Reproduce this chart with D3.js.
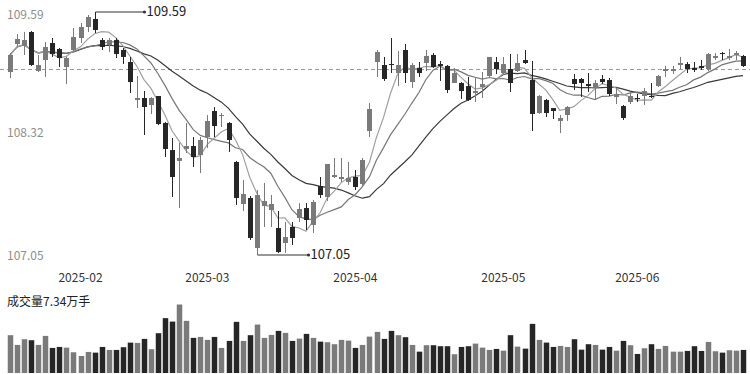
<!DOCTYPE html>
<html>
<head>
<meta charset="utf-8">
<script src="https://cdn.jsdelivr.net/npm/d3@7/dist/d3.min.js"></script>
<style>
  body { margin: 0; background: #fff; }
  svg { display: block; font-family: "Noto Sans CJK SC", "Open Sans", sans-serif; }
</style>
</head>
<body>
<svg id="chart" width="750" height="374"></svg>
<script>
// trading days shown on the chart
const dates = [
  '2025-01-14','2025-01-15','2025-01-16','2025-01-17','2025-01-20','2025-01-21','2025-01-22','2025-01-23','2025-01-24','2025-01-27',
  '2025-02-05','2025-02-06','2025-02-07','2025-02-10','2025-02-11','2025-02-12','2025-02-13','2025-02-14','2025-02-17','2025-02-18',
  '2025-02-19','2025-02-20','2025-02-21','2025-02-24','2025-02-25','2025-02-26','2025-02-27','2025-02-28',
  '2025-03-03','2025-03-04','2025-03-05','2025-03-06','2025-03-07','2025-03-10','2025-03-11','2025-03-12','2025-03-13','2025-03-14',
  '2025-03-17','2025-03-18','2025-03-19','2025-03-20','2025-03-21','2025-03-24','2025-03-25','2025-03-26','2025-03-27','2025-03-28','2025-03-31',
  '2025-04-01','2025-04-02','2025-04-03','2025-04-07','2025-04-08','2025-04-09','2025-04-10','2025-04-11','2025-04-14','2025-04-15',
  '2025-04-16','2025-04-17','2025-04-18','2025-04-21','2025-04-22','2025-04-23','2025-04-24','2025-04-25','2025-04-28','2025-04-29','2025-04-30',
  '2025-05-06','2025-05-07','2025-05-08','2025-05-09','2025-05-12','2025-05-13','2025-05-14','2025-05-15','2025-05-16','2025-05-19',
  '2025-05-20','2025-05-21','2025-05-22','2025-05-23','2025-05-26','2025-05-27','2025-05-28','2025-05-29','2025-05-30',
  '2025-06-03','2025-06-04','2025-06-05','2025-06-06','2025-06-09','2025-06-10','2025-06-11','2025-06-12','2025-06-13','2025-06-16',
  '2025-06-17','2025-06-18','2025-06-19','2025-06-20','2025-06-23','2025-06-24'
];

const opens = [
  108.963,109.255,109.235,109.381,108.973,109.088,109.266,109.203,109.015,109.193,
  109.318,109.433,109.517,109.297,109.245,109.297,109.193,109.067,108.670,108.691,
  108.618,108.712,108.430,108.147,108.033,108.158,108.189,108.095,108.283,108.555,
  108.503,108.430,108.022,107.583,107.646,107.123,107.562,107.520,107.332,107.175,
  107.343,107.437,107.541,107.364,107.771,107.656,107.865,107.844,107.813,107.865,
  107.792,108.346,109.067,109.036,109.046,108.952,109.193,108.858,109.005,109.057,
  109.141,109.046,109.026,108.848,108.848,108.816,108.743,108.806,108.921,109.067,
  108.952,108.994,108.973,109.088,108.879,108.534,108.670,108.586,108.451,108.513,
  108.890,108.890,108.837,108.796,108.890,108.879,108.701,108.607,108.649,108.691,
  108.712,108.712,108.816,108.973,108.973,109.036,109.046,109.005,109.026,108.994,
  109.109,109.161,109.109,109.141,109.130
];
const highs = [
  109.161,109.360,109.381,109.391,109.141,109.276,109.318,109.214,109.120,109.423,
  109.475,109.559,109.590,109.318,109.318,109.318,109.214,109.120,108.921,108.764,
  108.701,108.712,108.440,108.273,108.221,108.430,108.283,108.283,108.513,108.597,
  108.534,108.440,108.033,107.834,107.667,107.729,107.803,107.677,107.510,107.395,
  107.395,107.593,107.593,107.625,107.865,108.001,108.064,108.064,108.022,107.938,
  108.064,108.639,109.193,109.120,109.318,109.182,109.255,109.057,109.067,109.193,
  109.161,109.078,109.036,109.005,108.858,108.911,108.900,108.963,109.120,109.120,
  109.120,109.151,109.151,109.193,109.078,108.722,108.681,108.586,108.513,108.607,
  108.942,108.900,108.952,108.879,108.931,108.900,108.796,108.618,108.743,108.733,
  108.796,108.848,108.931,109.026,109.026,109.120,109.067,109.067,109.088,109.161,
  109.161,109.172,109.203,109.182,109.141
];
const lows = [
  108.900,109.224,109.141,109.026,108.963,108.911,109.120,109.015,108.837,109.182,
  109.266,109.381,109.370,109.193,109.172,109.109,109.046,108.743,108.586,108.304,
  108.524,108.409,108.074,107.656,107.541,108.116,107.970,107.907,108.168,108.283,
  108.388,108.127,107.573,107.510,107.207,107.050,107.343,107.343,107.071,107.071,
  107.154,107.395,107.311,107.280,107.646,107.614,107.855,107.813,107.782,107.729,
  107.771,108.283,108.911,108.869,108.952,108.816,108.848,108.796,108.911,108.973,
  109.005,108.869,108.743,108.848,108.681,108.660,108.649,108.691,108.911,108.942,
  108.931,108.754,108.963,109.046,108.346,108.524,108.492,108.471,108.325,108.451,
  108.775,108.701,108.754,108.681,108.837,108.712,108.628,108.461,108.628,108.649,
  108.618,108.691,108.806,108.911,108.942,108.994,108.952,108.963,108.984,108.973,
  109.088,109.088,109.088,109.088,109.015
];
const closes = [
  109.141,109.308,109.297,109.036,109.036,109.224,109.151,109.109,109.109,109.329,
  109.433,109.538,109.402,109.224,109.297,109.151,109.120,108.858,108.691,108.597,
  108.691,108.419,108.158,107.865,108.064,108.189,108.074,108.252,108.451,108.398,
  108.513,108.252,107.646,107.688,107.228,107.677,107.614,107.583,107.081,107.238,
  107.228,107.531,107.416,107.604,107.677,108.001,107.886,107.865,107.855,107.761,
  108.043,108.576,109.172,108.890,109.036,109.036,108.952,109.036,108.952,109.130,
  109.015,109.026,108.775,108.952,108.764,108.670,108.764,108.837,109.120,108.994,
  109.046,108.848,109.057,109.057,108.524,108.712,108.534,108.555,108.482,108.597,
  108.837,108.848,108.816,108.848,108.858,108.733,108.722,108.482,108.712,108.681,
  108.764,108.701,108.921,108.994,108.994,109.057,108.994,108.984,109.005,109.151,
  109.130,109.151,109.130,109.161,109.026
];
// volume, 万手
const volumes = [
  12.03,8.93,10.75,10.43,8.93,11.80,7.98,8.29,8.07,6.60,
  5.42,6.70,6.48,8.29,7.34,7.34,8.20,9.67,9.57,10.85,
  7.56,12.66,17.45,16.36,21.79,16.59,11.17,11.48,10.53,11.48,
  7.98,10.21,16.27,10.21,12.03,15.41,11.17,12.12,13.40,12.76,
  10.21,10.94,12.44,11.17,9.98,9.79,9.16,10.53,10.30,7.98,
  8.93,11.58,13.08,10.85,13.40,12.03,11.39,8.93,6.79,8.84,
  8.84,8.52,8.52,5.97,8.29,8.52,9.35,8.07,7.34,7.66,
  7.11,12.03,8.39,7.75,15.63,10.53,9.67,8.29,8.61,8.29,
  10.75,7.43,9.16,8.93,7.43,8.29,7.11,10.21,8.84,6.06,
  7.88,9.16,7.66,8.61,6.79,6.79,7.02,8.52,7.02,9.89,
  6.92,6.48,7.24,7.11,7.34
];

const priceTicks = [109.59, 108.32, 107.05];
const monthTicks = ['2025-02', '2025-03', '2025-04', '2025-05', '2025-06'];
const refPrice = 108.99;
const volumeLabel = '成交量7.34万手';

const upColor = '#7a7a7a';
const downColor = '#262626';
const maColors = {5: '#a0a0a0', 10: '#777777', 20: '#3a3a3a'};

const svg = d3.select('svg#chart');

const x = d3.scaleBand()
  .domain(dates)
  .range([6.5, 746.5])
  .paddingInner(0.28)
  .paddingOuter(0.14);
const cx = d => x(d) + x.bandwidth() / 2;

const y = d3.scaleLinear()
  .domain([107.05, 109.59])
  .range([255, 12]);

const yv = d3.scaleLinear()
  .domain([0, d3.max(volumes)])
  .range([373, 304.5]);

const rows = dates.map((d, i) => ({
  date: d, open: opens[i], high: highs[i], low: lows[i], close: closes[i], vol: volumes[i],
  up: closes[i] >= opens[i]
}));

// reference dashed line
svg.append('line')
  .attr('x1', 0).attr('x2', 750)
  .attr('y1', Math.round(y(refPrice)) + 0.5).attr('y2', Math.round(y(refPrice)) + 0.5)
  .attr('stroke', '#9a9a9a')
  .attr('stroke-dasharray', '4,3');

// price labels
svg.append('g')
  .selectAll('text')
  .data(priceTicks)
  .join('text')
  .attr('x', 7)
  .attr('y', (d, i) => i === 0 ? y(d) + 4 : (i === 1 ? y(d) : y(d) + 2))
  .attr('dominant-baseline', 'middle')
  .attr('font-size', '12px')
  .attr('fill', '#8e8e8e')
  .text(d => d.toFixed(2));

// moving averages
const ma = n => closes.map((c, i) => d3.mean(closes.slice(Math.max(0, i - n + 1), i + 1)));
const line = d3.line()
  .x((d, i) => cx(dates[i]))
  .y(d => y(d));
[20, 10, 5].forEach(n => {
  svg.append('path')
    .datum(ma(n))
    .attr('fill', 'none')
    .attr('stroke', maColors[n])
    .attr('stroke-width', 1.2)
    .attr('d', line);
});

// candles
const candles = svg.append('g')
  .selectAll('g')
  .data(rows)
  .join('g');

candles.append('line')
  .attr('x1', d => Math.round(cx(d.date)) + 0.5)
  .attr('x2', d => Math.round(cx(d.date)) + 0.5)
  .attr('y1', d => y(d.high))
  .attr('y2', d => y(d.low))
  .attr('stroke', d => d.up ? upColor : downColor)
  .attr('stroke-width', 1);

candles.append('rect')
  .attr('x', d => Math.round(cx(d.date)) + 0.5 - 2.5)
  .attr('y', d => y(Math.max(d.open, d.close)))
  .attr('width', 5)
  .attr('height', d => Math.max(1, Math.abs(y(d.open) - y(d.close))))
  .attr('fill', d => d.up ? upColor : downColor);

// high / low markers
const hi = d3.maxIndex(highs);
const lo = d3.minIndex(lows);
[[hi, highs[hi], 49], [lo, lows[lo], 51]].forEach(([i, v, len]) => {
  const x0 = Math.round(cx(dates[i])) + 0.5;
  const yy = y(v);
  const g = svg.append('g');
  g.append('line')
    .attr('x1', x0).attr('x2', x0 + len)
    .attr('y1', yy).attr('y2', yy)
    .attr('stroke', '#333')
    .attr('stroke-width', 1.2);
  g.append('circle')
    .attr('cx', x0 + len).attr('cy', yy).attr('r', 1.6)
    .attr('fill', '#333');
  g.append('text')
    .attr('x', x0 + len + 2)
    .attr('y', yy)
    .attr('dominant-baseline', 'middle')
    .attr('font-size', '13px')
    .attr('fill', '#222')
    .text(v.toFixed(2));
});

// month labels
const firstOfMonth = monthTicks.map(m => dates.find(d => d.startsWith(m)));
svg.append('g')
  .selectAll('text')
  .data(monthTicks)
  .join('text')
  .attr('x', (m, i) => cx(firstOfMonth[i]))
  .attr('y', 279)
  .attr('text-anchor', 'middle')
  .attr('dominant-baseline', 'middle')
  .attr('font-size', '12px')
  .attr('fill', '#333')
  .text(m => m);

// volume
svg.append('text')
  .attr('x', 7)
  .attr('y', 303)
  .attr('dominant-baseline', 'middle')
  .attr('font-size', '12px')
  .attr('fill', '#222')
  .text(volumeLabel);

svg.append('g')
  .selectAll('rect')
  .data(rows)
  .join('rect')
  .attr('x', d => Math.round(cx(d.date)) + 0.5 - 2.75)
  .attr('y', d => yv(d.vol))
  .attr('width', 5.5)
  .attr('height', d => yv(0) - yv(d.vol))
  .attr('fill', d => d.up ? upColor : downColor);
</script>
</body>
</html>
